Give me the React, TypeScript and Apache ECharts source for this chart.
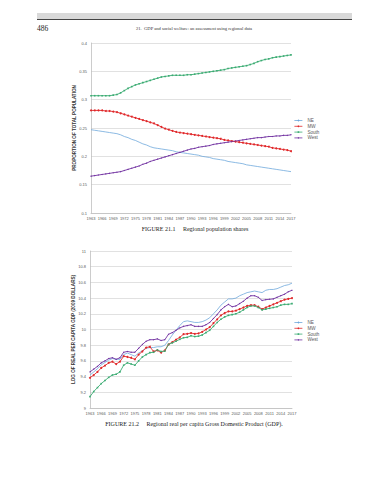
import React, { useEffect, useRef } from "react";
import * as echarts from "echarts";

const years = [
  "1963","1964","1965","1966","1967","1968","1969","1970","1971","1972",
  "1973","1974","1975","1976","1977","1978","1979","1980","1981","1982",
  "1983","1984","1985","1986","1987","1988","1989","1990","1991","1992",
  "1993","1994","1995","1996","1997","1998","1999","2000","2001","2002",
  "2003","2004","2005","2006","2007","2008","2009","2010","2011","2012",
  "2013","2014","2015","2016","2017",
];

const seriesNames = ["NE", "MW", "South", "West"];

const popNE = [
  0.247,0.246,0.245,0.244,0.243,0.242,0.241,0.240,0.238,0.235,
  0.233,0.230,0.228,0.225,0.222,0.220,0.217,0.215,0.214,0.213,
  0.212,0.211,0.210,0.208,0.207,0.206,0.205,0.204,0.203,0.202,
  0.200,0.199,0.198,0.196,0.195,0.194,0.193,0.191,0.190,0.189,
  0.188,0.187,0.185,0.184,0.183,0.182,0.181,0.180,0.179,0.178,
  0.177,0.176,0.175,0.174,0.173,
];
const popMW = [
  0.281,0.281,0.281,0.281,0.280,0.280,0.279,0.278,0.276,0.274,
  0.272,0.270,0.268,0.266,0.264,0.262,0.260,0.258,0.255,0.252,
  0.249,0.247,0.245,0.243,0.242,0.241,0.240,0.239,0.238,0.237,
  0.236,0.235,0.234,0.233,0.232,0.231,0.229,0.228,0.227,0.226,
  0.225,0.224,0.223,0.222,0.221,0.220,0.219,0.218,0.217,0.215,
  0.214,0.213,0.212,0.211,0.209,
];
const popSouth = [
  0.307,0.307,0.307,0.307,0.307,0.307,0.308,0.309,0.312,0.316,
  0.320,0.323,0.326,0.328,0.330,0.332,0.334,0.336,0.338,0.340,
  0.341,0.342,0.343,0.343,0.343,0.343,0.344,0.344,0.345,0.346,
  0.347,0.348,0.349,0.350,0.351,0.352,0.353,0.355,0.356,0.357,
  0.358,0.359,0.360,0.362,0.364,0.367,0.369,0.371,0.372,0.374,
  0.375,0.376,0.377,0.378,0.379,
];
const popWest = [
  0.165,0.166,0.167,0.168,0.169,0.170,0.171,0.172,0.173,0.175,
  0.177,0.179,0.181,0.183,0.186,0.188,0.191,0.193,0.195,0.197,
  0.199,0.201,0.203,0.205,0.207,0.209,0.211,0.213,0.214,0.216,
  0.217,0.218,0.219,0.221,0.222,0.223,0.224,0.225,0.226,0.227,
  0.228,0.229,0.230,0.231,0.232,0.233,0.233,0.234,0.235,0.235,
  0.236,0.236,0.237,0.237,0.238,
];

const gdpNE = [
  9.42,9.46,9.50,9.55,9.58,9.61,9.63,9.62,9.62,9.68,
  9.70,9.68,9.66,9.70,9.73,9.76,9.77,9.77,9.78,9.78,
  9.80,9.86,9.93,9.99,10.05,10.10,10.11,10.10,10.09,10.09,
  10.10,10.12,10.15,10.20,10.25,10.31,10.35,10.39,10.39,10.40,
  10.43,10.45,10.47,10.48,10.49,10.48,10.47,10.50,10.51,10.51,
  10.52,10.54,10.56,10.57,10.59,
];
const gdpMW = [
  9.385,9.42,9.46,9.51,9.54,9.575,9.59,9.56,9.59,9.66,
  9.65,9.64,9.62,9.68,9.72,9.77,9.78,9.72,9.735,9.705,
  9.735,9.81,9.84,9.87,9.90,9.94,9.945,9.955,9.945,9.95,
  9.97,10.00,10.03,10.08,10.13,10.18,10.21,10.23,10.23,10.24,
  10.26,10.28,10.30,10.31,10.31,10.29,10.26,10.28,10.30,10.32,
  10.34,10.36,10.38,10.39,10.40,
];
const gdpSouth = [
  9.145,9.21,9.26,9.31,9.35,9.39,9.42,9.43,9.46,9.545,
  9.575,9.56,9.545,9.60,9.65,9.68,9.705,9.71,9.74,9.72,
  9.725,9.81,9.83,9.85,9.875,9.895,9.90,9.92,9.91,9.915,
  9.93,9.96,9.99,10.04,10.09,10.13,10.16,10.18,10.19,10.20,
  10.22,10.25,10.28,10.30,10.30,10.28,10.25,10.26,10.27,10.28,
  10.29,10.31,10.32,10.32,10.33,
];
const gdpWest = [
  9.46,9.495,9.53,9.575,9.60,9.63,9.64,9.62,9.64,9.71,
  9.72,9.71,9.71,9.76,9.81,9.85,9.87,9.87,9.88,9.86,
  9.87,9.94,9.96,9.99,10.02,10.04,10.05,10.06,10.04,10.04,
  10.04,10.06,10.09,10.14,10.19,10.25,10.29,10.32,10.29,10.30,
  10.33,10.36,10.40,10.43,10.43,10.41,10.37,10.38,10.385,10.39,
  10.41,10.43,10.45,10.48,10.50,
];

const colors = ["#6fa8dc", "#e0282a", "#3aab72", "#7030a0"];
const symbols = ["none", "circle", "rect", "diamond"];

export default function App() {
  const ref = useRef<HTMLDivElement>(null);

  useEffect(() => {
    if (!ref.current) return;
    const chart = echarts.init(ref.current, null, { renderer: "svg" });
    const labelFont = "Liberation Sans";
    const tickLabel = { fontSize: 4, color: "#595959", fontFamily: labelFont };

    const mkX = (gridIndex: number) => ({
      type: "category",
      gridIndex,
      data: years,
      boundaryGap: false,
      axisLine: { show: true, lineStyle: { color: "#bfbfbf", width: 0.8 } },
      axisTick: { show: false },
      axisLabel: { ...tickLabel, interval: 2, margin: 3.5, hideOverlap: false },
      splitLine: { show: false },
    });

    const mkY = (gridIndex: number, min: number, max: number, interval: number, name: string, digits: number) => ({
      type: "value",
      gridIndex,
      min,
      max,
      interval,
      name,
      nameLocation: "middle",
      nameGap: 14,
      nameMoveOverlap: false,
      nameTextStyle: { fontSize: 4.6, fontWeight: "bold", color: "#333", fontFamily: labelFont },
      axisLine: { show: true, lineStyle: { color: "#bfbfbf", width: 0.8 } },
      axisTick: { show: false },
      axisLabel: { ...tickLabel, margin: 4, formatter: (v: number) => String(+v.toFixed(digits)) },
      splitLine: { show: true, lineStyle: { color: "#d9d9d9", width: 0.8 } },
    });

    const popData = [popNE, popMW, popSouth, popWest];
    const gdpData = [gdpNE, gdpMW, gdpSouth, gdpWest];

    const mkSeries = (data: number[][], idx: number) =>
      seriesNames.map((n, i) => ({
        name: n,
        type: "line",
        xAxisIndex: idx,
        yAxisIndex: idx,
        data: data[i],
        symbol: symbols[i],
        symbolSize: i === 1 ? 2 : 1.6,
        showSymbol: i !== 0,
        lineStyle: { color: colors[i], width: i === 0 ? 0.8 : 0.9 },
        itemStyle: { color: colors[i] },
      }));

    const legendCommon = {
      orient: "vertical",
      left: 294,
      itemWidth: 8,
      itemHeight: 2,
      itemGap: 0.8,
      padding: 0,
      lineStyle: { width: 0.8 },
      textStyle: { fontSize: 4.6, color: "#595959", fontFamily: labelFont },
      data: seriesNames,
    };

    chart.setOption({
      animation: false,
      color: colors,
      grid: [
        { left: 91, right: 98, top: 43, height: 170 },
        { left: 90, right: 97, top: 251, height: 157 },
      ],
      xAxis: [mkX(0), mkX(1)],
      yAxis: [
        mkY(0, 0.1, 0.4, 0.05, "PROPORTION OF TOTAL POPULATION", 2),
        mkY(1, 9, 11, 0.2, "LOG OF REAL PER CAPITA GDP (2009 DOLLARS)", 1),
      ],
      legend: [
        { ...legendCommon, top: 118 },
        { ...legendCommon, top: 320 },
      ],
      series: [...mkSeries(popData, 0), ...mkSeries(gdpData, 1)],
      graphic: [
        { type: "rect", shape: { x: 37, y: 13, width: 315, height: 6 }, style: { fill: "#d9d9d9" } },
        { type: "line", shape: { x1: 37, y1: 19.5, x2: 352, y2: 19.5 }, style: { stroke: "#444", lineWidth: 1 } },
        {
          type: "text", x: 37, y: 28,
          style: { text: "486", fontSize: 7.5, fontFamily: "Liberation Serif", fill: "#222", verticalAlign: "middle" },
        },
        {
          type: "text", x: 194, y: 28,
          style: {
            text: "21.  GDP and social welfare: an assessment using regional data",
            fontSize: 4.6, fontFamily: "Liberation Serif", fill: "#333", align: "center", verticalAlign: "middle",
          },
        },
        {
          type: "text", x: 195, y: 228.5,
          style: {
            text: "FIGURE 21.1     Regional population shares",
            fontSize: 6, fontFamily: "Liberation Serif", fill: "#222", align: "center", verticalAlign: "middle",
          },
        },
        {
          type: "text", x: 194, y: 424,
          style: {
            text: "FIGURE 21.2     Regional real per capita Gross Domestic Product (GDP).",
            fontSize: 6, fontFamily: "Liberation Serif", fill: "#222", align: "center", verticalAlign: "middle",
          },
        },
      ],
    });

    return () => chart.dispose();
  }, []);

  return (
    <div
      ref={ref}
      style={{ position: "absolute", left: 0, top: 0, width: 389, height: 480, background: "#fff" }}
    />
  );
}
